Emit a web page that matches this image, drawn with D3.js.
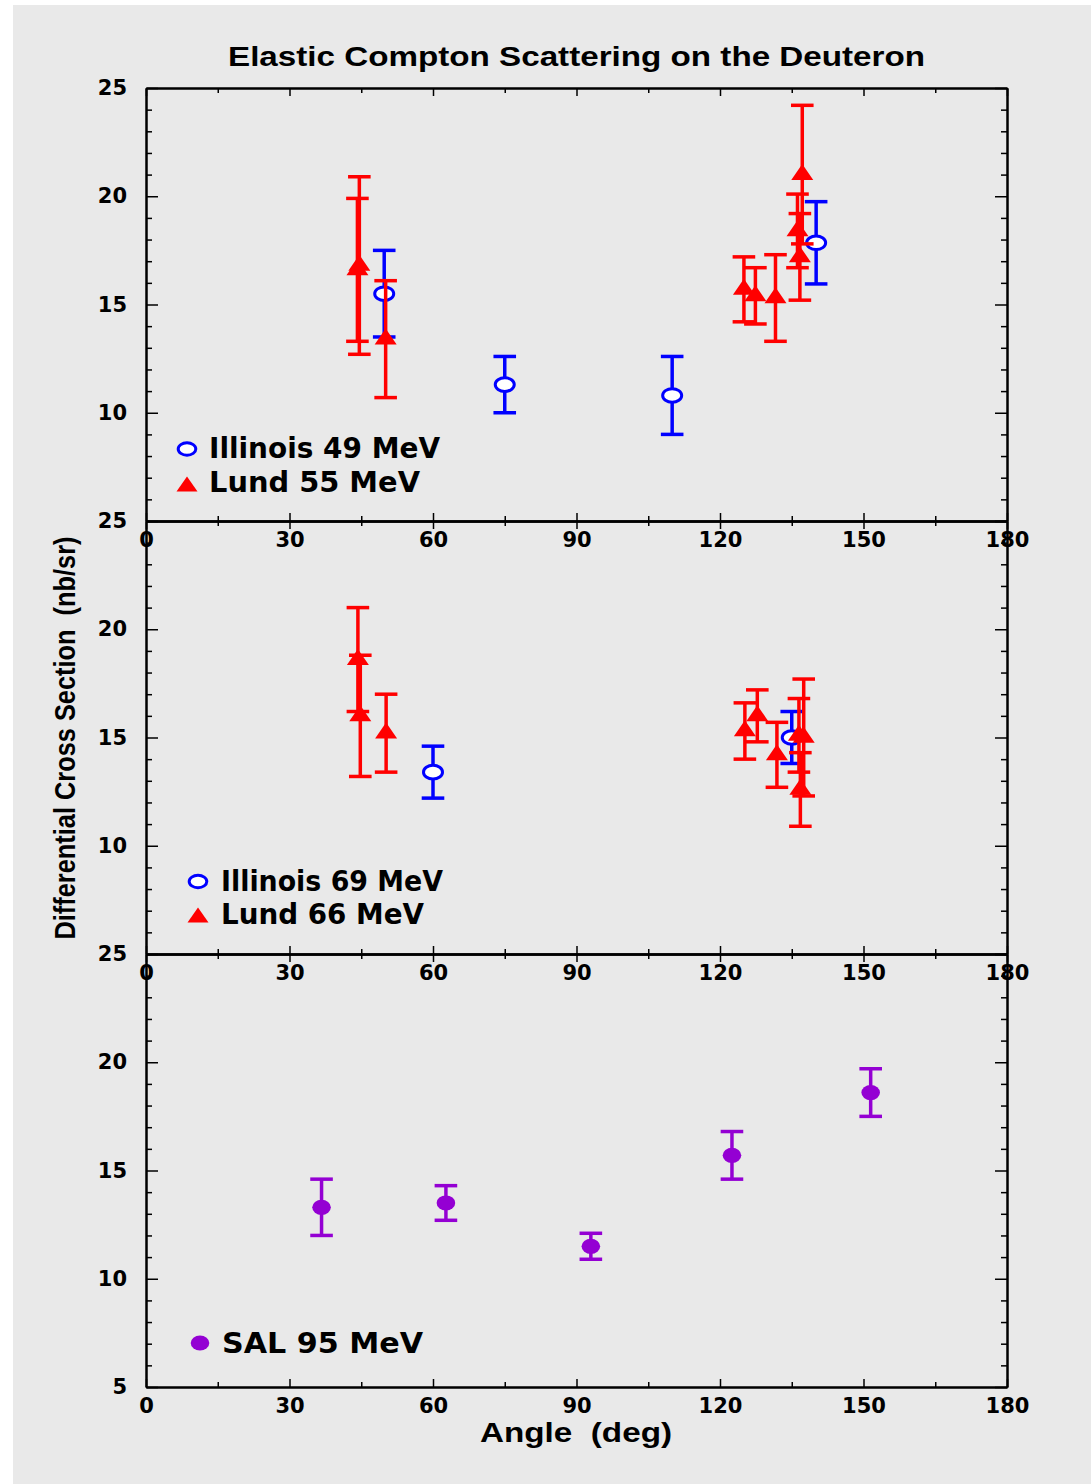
<!DOCTYPE html>
<html><head><meta charset="utf-8">
<script src="https://cdn.jsdelivr.net/npm/d3@7"></script>
<style>body{margin:0;background:#fff}</style>
</head><body>
<svg id="c" width="1091" height="1484"></svg>
<script>
// ---------- data ----------
const xTickValues = [0, 30, 60, 90, 120, 150, 180];
const xMinorValues = [15, 45, 75, 105, 135, 165];
const yMajorValues = [25, 20, 15, 10, 5];
const yMinorValues = [6, 7, 8, 9, 11, 12, 13, 14, 16, 17, 18, 19, 21, 22, 23, 24];

const illinois49Angle = [49.8, 75.0, 110.0, 140.1];
const illinois49Value = [15.5, 11.3, 10.8, 17.85];
const illinois49Err   = [2.0, 1.3, 1.8, 1.9];

const lund55Angle = [44.6, 44.2, 50.1, 125.0, 127.4, 131.6, 137.2, 136.2, 136.7];
const lund55Value = [16.8, 16.6, 13.4, 15.7, 15.4, 15.3, 21.0, 18.4, 17.2];
const lund55Err   = [4.1, 3.3, 2.7, 1.5, 1.3, 2.0, 3.2, 1.7, 2.0];

const illinois69Angle = [60.0, 135.0];
const illinois69Value = [13.4, 15.0];
const illinois69Err   = [1.2, 1.2];

const lund66Angle = [44.3, 44.8, 50.2, 125.2, 127.8, 131.9, 136.5, 136.8, 137.5];
const lund66Value = [18.6, 16.0, 15.2, 15.3, 16.0, 14.2, 15.1, 12.6, 15.0];
const lund66Err   = [2.4, 2.8, 1.8, 1.3, 1.2, 1.5, 1.7, 1.7, 2.7];

const sal95Angle = [36.7, 62.7, 93.0, 122.5, 151.5];
const sal95Value = [13.3, 13.5, 11.5, 15.7, 18.6];
const sal95Err   = [1.3, 0.8, 0.6, 1.1, 1.1];

const titleText = "Elastic Compton Scattering on the Deuteron";
const xTitle = "Angle  (deg)";
const yTitle = "Differential Cross Section  (nb/sr)";

// ---------- layout ----------
const W = 1091, H = 1484;
const left = 146, right = 1007, top0 = 88, panelH = 433;
const svg = d3.select("#c");
svg.append("rect").attr("x", 13).attr("y", 5).attr("width", W - 13).attr("height", H - 5).attr("fill", "#e9e9e9");

const x = d3.scaleLinear().domain([0, 180]).range([left, right]);

const series = [
  {panel: 0, label: "Illinois 49 MeV", angle: illinois49Angle, value: illinois49Value, err: illinois49Err, color: "#0000ff", shape: "open"},
  {panel: 0, label: "Lund 55 MeV", angle: lund55Angle, value: lund55Value, err: lund55Err, color: "#ff0000", shape: "tri"},
  {panel: 1, label: "Illinois 69 MeV", angle: illinois69Angle, value: illinois69Value, err: illinois69Err, color: "#0000ff", shape: "open"},
  {panel: 1, label: "Lund 66 MeV", angle: lund66Angle, value: lund66Value, err: lund66Err, color: "#ff0000", shape: "tri"},
  {panel: 2, label: "SAL 95 MeV", angle: sal95Angle, value: sal95Value, err: sal95Err, color: "#9400d3", shape: "dot"}
];

const legendPos = [
  {mx: 187, tx: 209, rows: [[449, 458], [484, 492]]},
  {mx: 198, tx: 221, rows: [[881.5, 891], [915, 924]]},
  {mx: 200, tx: 222, rows: [[1343, 1353]]}
];
const legendLen = {"Illinois 49 MeV": 231, "Lund 55 MeV": 211, "Illinois 69 MeV": 222, "Lund 66 MeV": 203, "SAL 95 MeV": 201};

function triPath(w, h, c) {
  const a = -h * c, b = h * (1 - c);
  return `M0,${a}L${w / 2},${b}L${-w / 2},${b}Z`;
}

function drawMarker(g, shape, color, cx, cy, legend) {
  if (shape === "open") {
    g.append("ellipse").attr("cx", cx).attr("cy", cy)
      .attr("rx", legend ? 8.8 : 9.5).attr("ry", legend ? 6.2 : 6.8)
      .attr("fill", "#fff").attr("stroke", color).attr("stroke-width", 3);
  } else if (shape === "tri") {
    g.append("path").attr("transform", `translate(${cx},${cy})`)
      .attr("d", legend ? triPath(21, 15, 0.5) : triPath(22, 16, 2 / 3)).attr("fill", color);
  } else {
    g.append("ellipse").attr("cx", cx).attr("cy", cy).attr("rx", 9.3).attr("ry", 7.6).attr("fill", color);
  }
}

const panels = [0, 1, 2];
panels.forEach(i => {
  const pTop = top0 + i * panelH, pBot = pTop + panelH;
  const y = d3.scaleLinear().domain([5, 25]).range([pBot, pTop]);
  const g = svg.append("g");

  function style(ax) {
    ax.attr("font-family", "DejaVu Sans").attr("font-weight", "bold").attr("font-size", 21);
    ax.select(".domain").attr("stroke", "#000").attr("stroke-width", 2);
    ax.selectAll(".tick line").attr("stroke", "#000").attr("stroke-width", 1.5);
    ax.selectAll(".tick text").attr("fill", "#000");
  }
  g.append("g").attr("transform", `translate(0,${pTop})`)
    .call(d3.axisTop(x).tickValues(xTickValues).tickSize(-8).tickSizeOuter(0).tickFormat("")).call(style);
  g.append("g").attr("transform", `translate(0,${pTop})`)
    .call(d3.axisTop(x).tickValues(xMinorValues).tickSize(-5).tickSizeOuter(0).tickFormat("")).call(style);
  g.append("g").attr("transform", `translate(0,${pBot})`)
    .call(d3.axisBottom(x).tickValues(xTickValues).tickSize(-8).tickSizeOuter(0).tickPadding(11).tickFormat(d3.format("d"))).call(style);
  g.append("g").attr("transform", `translate(0,${pBot})`)
    .call(d3.axisBottom(x).tickValues(xMinorValues).tickSize(-5).tickSizeOuter(0).tickFormat("")).call(style);
  const yLab = i === 2 ? yMajorValues : yMajorValues.slice(0, 4);
  g.append("g").attr("transform", `translate(${left},0)`)
    .call(d3.axisLeft(y).tickValues(yLab).tickSize(-12).tickSizeOuter(0).tickPadding(19).tickFormat(d3.format("d"))).call(style);
  g.append("g").attr("transform", `translate(${left},0)`)
    .call(d3.axisLeft(y).tickValues(yMinorValues).tickSize(-6).tickSizeOuter(0).tickFormat("")).call(style);
  g.append("g").attr("transform", `translate(${right},0)`)
    .call(d3.axisRight(y).tickValues(yMajorValues).tickSize(-12).tickSizeOuter(0).tickFormat("")).call(style);
  g.append("g").attr("transform", `translate(${right},0)`)
    .call(d3.axisRight(y).tickValues(yMinorValues).tickSize(-6).tickSizeOuter(0).tickFormat("")).call(style);

  series.filter(s => s.panel === i).forEach(s => {
    const sg = svg.append("g");
    s.angle.forEach((a, j) => {
      const cx = x(a), v = s.value[j], e = s.err[j];
      const y1 = y(v + e), y2 = y(v - e);
      sg.append("line").attr("x1", cx).attr("x2", cx).attr("y1", y1).attr("y2", y2)
        .attr("stroke", s.color).attr("stroke-width", 3.5);
      [y1, y2].forEach(yy => sg.append("line").attr("x1", cx - 11.3).attr("x2", cx + 11.3)
        .attr("y1", yy).attr("y2", yy).attr("stroke", s.color).attr("stroke-width", 3.5));
      drawMarker(sg, s.shape, s.color, cx, y(v), false);
    });
  });

  const lp = legendPos[i];
  series.filter(s => s.panel === i).forEach((s, k) => {
    const [my, ty] = lp.rows[k];
    drawMarker(svg, s.shape, s.color, lp.mx, my, true);
    svg.append("text").attr("x", lp.tx).attr("y", ty).text(s.label)
      .attr("font-family", "DejaVu Sans").attr("font-weight", "bold").attr("font-size", 28)
      .attr("textLength", legendLen[s.label]).attr("lengthAdjust", "spacingAndGlyphs");
  });
});

svg.append("text").attr("x", (left + right) / 2).attr("y", 66).attr("text-anchor", "middle")
  .attr("font-family", "Liberation Sans").attr("font-weight", "bold").attr("font-size", 28)
  .attr("textLength", 697).attr("lengthAdjust", "spacingAndGlyphs").text(titleText);
svg.append("text").attr("x", 576).attr("y", 1442).attr("text-anchor", "middle")
  .attr("font-family", "Liberation Sans").attr("font-weight", "bold").attr("font-size", 28)
  .attr("textLength", 192).attr("lengthAdjust", "spacingAndGlyphs").style("white-space", "pre").text(xTitle);
svg.append("text").attr("transform", "translate(75,738) rotate(-90)").attr("text-anchor", "middle")
  .attr("font-family", "Liberation Sans Narrow, Liberation Sans").attr("font-weight", "bold").attr("font-size", 29)
  .attr("textLength", 403).attr("lengthAdjust", "spacingAndGlyphs").style("white-space", "pre").text(yTitle);
</script>
</body></html>
